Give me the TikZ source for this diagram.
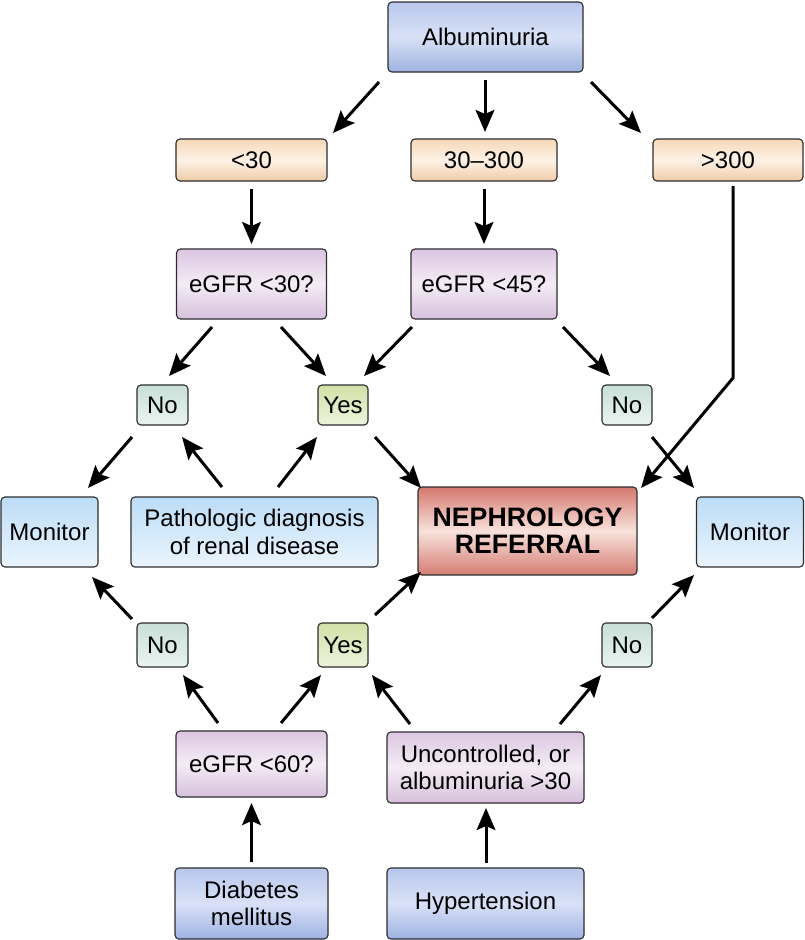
\documentclass[tikz,border=0pt]{standalone}
\usepackage{fontspec}
\setmainfont{Liberation Sans}
\usetikzlibrary{arrows.meta,calc}
\newlength\px
\setlength\px{0.75pt}
\definecolor{bluetop}{RGB}{184,199,236}
\definecolor{bluemid}{RGB}{216,225,246}
\definecolor{bluebot}{RGB}{158,178,226}
\definecolor{ortop}{RGB}{246,216,184}
\definecolor{ormid}{RGB}{253,242,230}
\definecolor{orbot}{RGB}{240,204,168}
\definecolor{putop}{RGB}{220,198,226}
\definecolor{pumid}{RGB}{244,236,245}
\definecolor{pubot}{RGB}{214,192,220}
\definecolor{notop}{RGB}{200,223,216}
\definecolor{nobot}{RGB}{234,244,240}
\definecolor{yestop}{RGB}{210,224,166}
\definecolor{yesbot}{RGB}{238,244,220}
\definecolor{lbtop}{RGB}{188,220,246}
\definecolor{lbbot}{RGB}{234,245,254}
\definecolor{redtop}{RGB}{212,120,110}
\definecolor{redmid}{RGB}{248,226,220}
\definecolor{redbot}{RGB}{212,124,114}
\definecolor{edge}{RGB}{45,45,45}
\tikzset{
  box/.style={draw=edge, line width=0.85pt, rounded corners=3pt, inner sep=0pt,
    align=center, font=\fontsize{18}{20.5}\selectfont},
  bluebox/.style={box, top color=bluetop, bottom color=bluebot, middle color=bluemid},
  orbox/.style={box, top color=ortop, bottom color=orbot, middle color=ormid},
  pubox/.style={box, top color=putop, bottom color=pubot, middle color=pumid},
  nobox/.style={box, top color=notop, bottom color=nobot},
  yesbox/.style={box, top color=yestop, bottom color=yesbot},
  lbbox/.style={box, top color=lbtop, bottom color=lbbot},
  redbox/.style={box, top color=redtop, bottom color=redbot, middle color=redmid,
    font=\fontsize{20}{20.5}\selectfont\bfseries},
  arr/.style={line width=2.25pt, -{Stealth[length=16.5pt, width=14pt, inset=3pt]}},
}
\begin{document}
\begin{tikzpicture}[x=0.75pt, y=-0.75pt]
\useasboundingbox (0,0) rectangle (805,940);
% nodes
\node[bluebox, minimum width=195\px, minimum height=70\px] (alb) at (485.5,37) {Albuminuria};
\node[orbox, minimum width=151\px, minimum height=42\px] (lt30) at (251.5,160) {<30};
\node[orbox, minimum width=146\px, minimum height=42\px] (m30) at (484,160) {30–300};
\node[orbox, minimum width=150\px, minimum height=42\px] (gt300) at (728,160) {>300};
\node[pubox, minimum width=150\px, minimum height=70\px] (e30) at (251.5,284) {eGFR <30?};
\node[pubox, minimum width=146\px, minimum height=70\px] (e45) at (484,284) {eGFR <45?};
\node[nobox, minimum width=51\px, minimum height=40\px] (noL) at (162.5,405) {No};
\node[yesbox, minimum width=50\px, minimum height=40\px] (yesT) at (343,405) {Yes};
\node[nobox, minimum width=50\px, minimum height=40\px] (noR) at (627,405) {No};
\node[lbbox, minimum width=97\px, minimum height=70\px] (monL) at (49.5,532) {Monitor};
\node[lbbox, minimum width=247\px, minimum height=70\px] (path) at (254.5,532) {Pathologic diagnosis\\of renal disease};
\node[redbox, minimum width=219\px, minimum height=88\px] (neph) at (527.5,531) {NEPHROLOGY\\REFERRAL};
\node[lbbox, minimum width=107\px, minimum height=70\px] (monR) at (750,532) {Monitor};
\node[nobox, minimum width=51\px, minimum height=44\px] (noBL) at (162.5,645) {No};
\node[yesbox, minimum width=50\px, minimum height=44\px] (yesB) at (343,645) {Yes};
\node[nobox, minimum width=50\px, minimum height=44\px] (noBR) at (627,645) {No};
\node[pubox, minimum width=151\px, minimum height=66\px] (e60) at (251.5,764) {eGFR <60?};
\node[pubox, minimum width=197\px, minimum height=71\px] (unc) at (485.5,767.5) {Uncontrolled, or\\albuminuria >30};
\node[bluebox, minimum width=153\px, minimum height=71\px] (dia) at (251.5,903.5) {Diabetes\\mellitus};
\node[bluebox, minimum width=197\px, minimum height=71\px] (hyp) at (485.5,903.5) {Hypertension};
% connectors
\draw[arr] ($(alb)+(-106.5,45)$) -- ($(lt30)+(81.5,-27)$);
\draw[arr] ($(alb)+(-0.5,43)$) -- ($(m30)+(1,-28)$);
\draw[arr] ($(alb)+(105.5,45)$) -- ($(gt300)+(-87,-27)$);
\draw[arr] ($(lt30)+(0,29)$) -- ($(e30)+(0,-40)$);
\draw[arr] ($(m30)+(0,29)$) -- ($(e45)+(0,-40)$);
\coordinate (bend) at ($(gt300)+(5,218)$);
\draw[arr] ($(gt300)+(5,26)$) -- (bend) -- ($(neph)+(113.5,-43)$);
\draw[arr] ($(e30)+(-39.5,43)$) -- ($(noL)+(6.5,-29)$);
\draw[arr] ($(e30)+(29.5,43)$) -- ($(yesT)+(-17,-29)$);
\draw[arr] ($(e45)+(-72,43)$) -- ($(yesT)+(21,-29)$);
\draw[arr] ($(e45)+(79,43)$) -- ($(noR)+(-17,-29)$);
\draw[arr] ($(noL)+(-30.5,32)$) -- ($(monL)+(38.5,-44)$);
\draw[arr] ($(path)+(-32.5,-45)$) -- ($(noL)+(19.5,32)$);
\draw[arr] ($(path)+(23.5,-45)$) -- ($(yesT)+(-26,32)$);
\draw[arr] ($(yesT)+(32,32)$) -- ($(neph)+(-106.5,-43)$);
\draw[arr] ($(noR)+(25,32)$) -- ($(monR)+(-56,-44)$);
\draw[arr] ($(noBL)+(-30.5,-26)$) -- ($(monL)+(42.5,45)$);
\draw[arr] ($(e60)+(-33.5,-41)$) -- ($(noBL)+(20.5,30)$);
\draw[arr] ($(e60)+(29.5,-41)$) -- ($(yesB)+(-22,30)$);
\draw[arr] ($(unc)+(-75.5,-43.5)$) -- ($(yesB)+(29,30)$);
\draw[arr] ($(unc)+(74.5,-43.5)$) -- ($(noBR)+(-26,30)$);
\draw[arr] ($(yesB)+(32,-30)$) -- ($(neph)+(-106.5,41)$);
\draw[arr] ($(noBR)+(25,-27)$) -- ($(monR)+(-56,43)$);
\draw[arr] ($(dia)+(0,-41.5)$) -- ($(e60)+(0,39)$);
\draw[arr] ($(hyp)+(0.5,-40.5)$) -- ($(unc)+(0.5,40.5)$);
\end{tikzpicture}
\end{document}
